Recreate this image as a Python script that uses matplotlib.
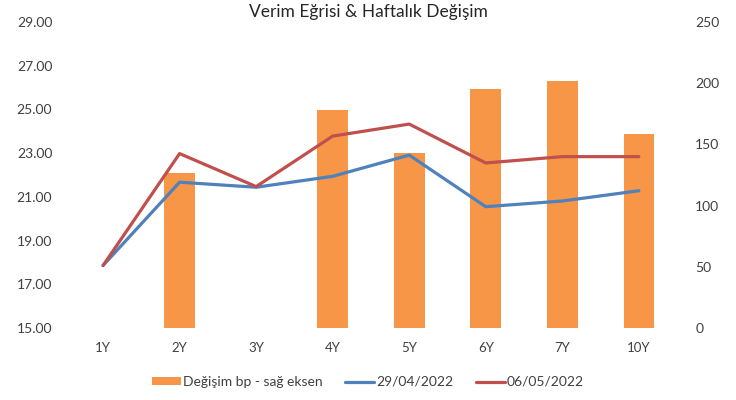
import numpy as np
import matplotlib
matplotlib.use("Agg")
import matplotlib.pyplot as plt

plt.rcParams['font.family'] = ['Lato', 'DejaVu Sans']

vadeler = ['1Y', '2Y', '3Y', '4Y', '5Y', '6Y', '7Y', '10Y']
degisim_bp = [0, 126.5, 0, 178.5, 142.7, 195.3, 202, 158.4]
faiz_2904 = [17.86, 21.67, 21.44, 21.94, 22.91, 20.55, 20.81, 21.28]
faiz_0605 = [17.86, 22.98, 21.47, 23.78, 24.33, 22.55, 22.84, 22.84]

turuncu = '#F79646'
mavi = '#4F81BD'
kirmizi = '#C0504D'
yazi = '#404040'

fig = plt.figure(figsize=(7.36, 4.0), dpi=100)
ax = fig.add_axes([0.088, 0.18, 0.832, 0.765])
ax2 = ax.twinx()

x = np.arange(len(vadeler))

# bars on the right axis, lines on the left
ax2.bar(x, degisim_bp, width=0.4, color=turuncu, label='Değişim bp - sağ eksen', zorder=1)
ax2.set_ylim(0, 250)
ax2.set_yticks(np.arange(0, 251, 50))

ax.set_zorder(ax2.get_zorder() + 1)
ax.patch.set_visible(False)
ax.plot(x, faiz_2904, color=mavi, lw=2.3, label='29/04/2022', solid_capstyle='round')
ax.plot(x, faiz_0605, color=kirmizi, lw=2.3, label='06/05/2022', solid_capstyle='round')
ax.set_ylim(15, 29)
ax.set_yticks(np.arange(15, 29.1, 2))
ax.set_yticklabels([f'{v:.2f}' for v in np.arange(15, 29.1, 2)])
ax.set_xlim(-0.5, len(vadeler) - 0.5)
ax.set_xticks(x)
ax.set_xticklabels(vadeler)

for a in (ax, ax2):
    for s in a.spines.values():
        s.set_visible(False)
    a.tick_params(length=0, labelsize=10, colors=yazi)
ax.tick_params(axis='x', pad=10, labelsize=9.5)
ax.tick_params(axis='y', pad=9)
ax2.tick_params(axis='y', pad=13)

fig.suptitle('Verim Eğrisi & Haftalık Değişim', y=0.99, fontsize=12.5, color='#262626')

h1, l1 = ax2.get_legend_handles_labels()
h2, l2 = ax.get_legend_handles_labels()
fig.legend(h1 + h2, l1 + l2, loc='center', bbox_to_anchor=(0.5, 0.045), ncol=3,
           frameon=False, fontsize=10, labelcolor=yazi, handlelength=2.1,
           handleheight=0.5, handletextpad=0.15, columnspacing=1.6)

fig.savefig('out.png', dpi=100)
